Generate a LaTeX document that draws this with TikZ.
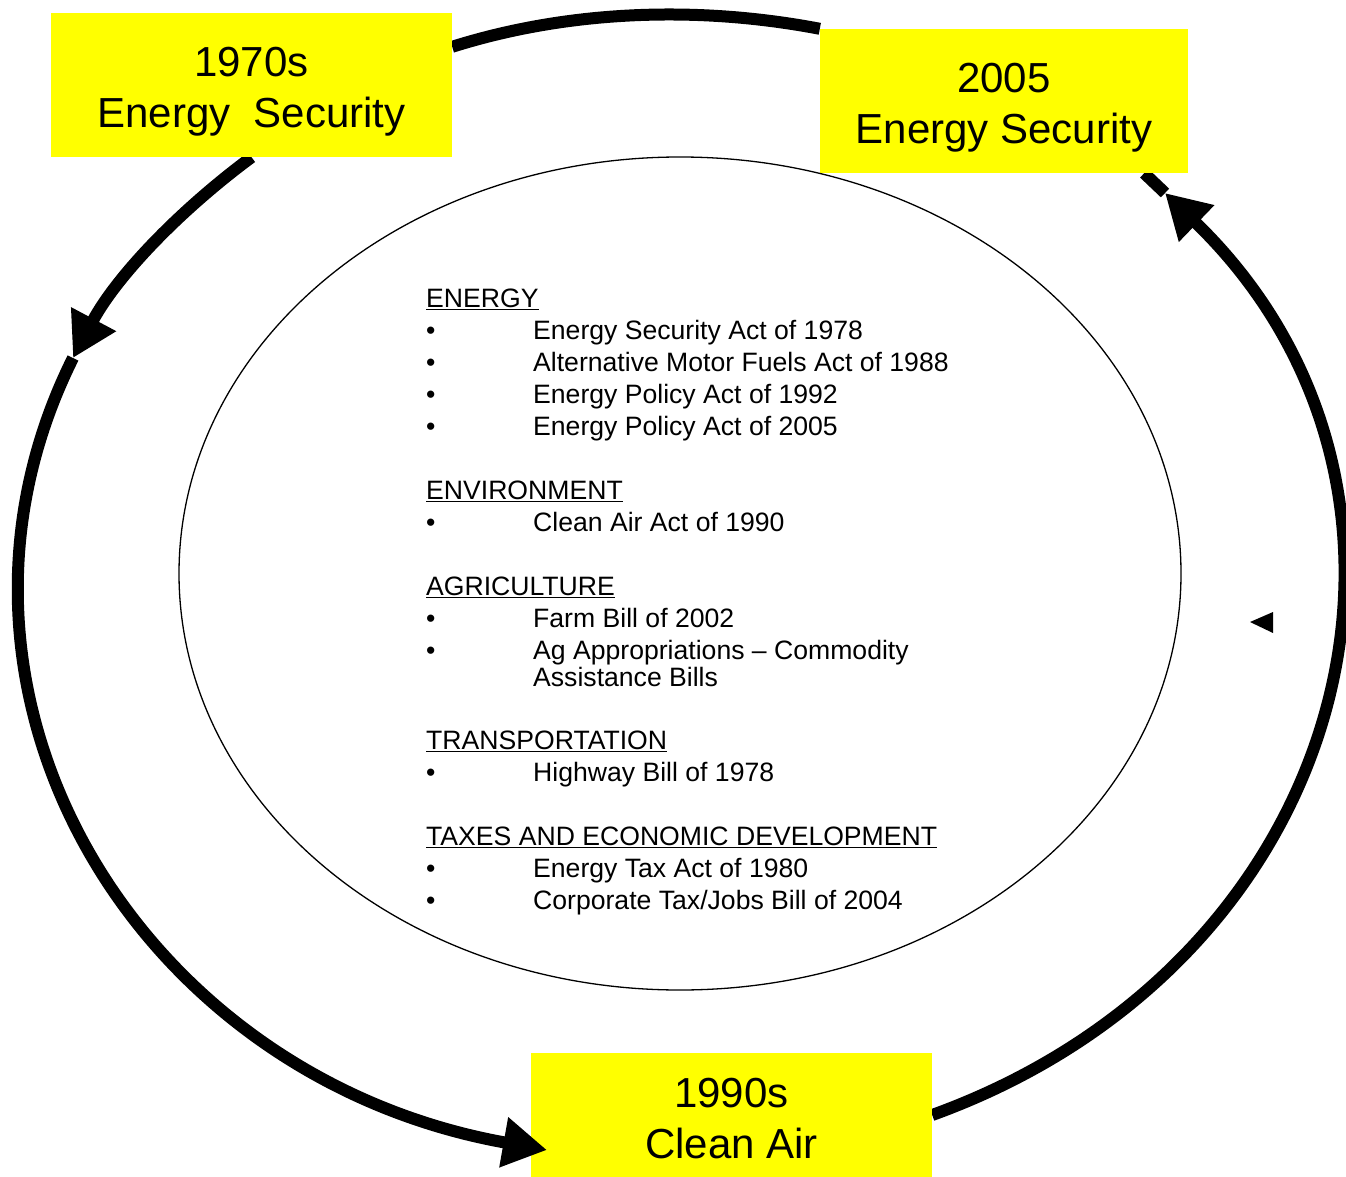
\documentclass[tikz,border=0pt]{standalone}
\usepackage{fontspec}
\setmainfont{Liberation Sans}
\usepackage{xcolor}
\usepackage{tikz}
\usetikzlibrary{positioning, arrows.meta, shapes.geometric, backgrounds}
\definecolor{eraYellow}{HTML}{FFFF00}
\newcommand{\actitem}{\makebox[107pt][l]{\textbullet}}
\newcommand{\eraline}[2][7pt]{\raisebox{-#1}[\height][\depth]{#2}}

\begin{document}
\begin{tikzpicture}[x=1pt, y=1pt,
    era/.style={fill=eraYellow, inner sep=0pt, align=center,
                font=\fontsize{42}{51}\selectfont},
    ring/.style={line width=12pt},
    ringarrow/.style={ring, -{Triangle[length=44pt, width=48pt]}}]
    \useasboundingbox (0,0) rectangle (1346,-1177);

    \node[era, minimum width=401pt, minimum height=144pt] (y70) at (251.5,-85) {\eraline{1970s}\\\eraline{Energy~ Security}};
    \node[era, minimum width=368pt, minimum height=144pt] (y05) at (1004,-101) {\eraline{2005}\\\eraline{Energy Security}};
    \node[era, minimum width=401pt, minimum height=124pt] (y90) at (731.5,-1115) {\eraline[4pt]{1990s}\\\eraline[4pt]{Clean Air}};

    \node[draw, ellipse, line width=1.3pt, minimum width=1002pt, minimum height=833pt] (inner) at (680,-573.5) {};
    \node[anchor=north west, inner sep=0pt, align=left,
          font=\fontsize{26.6}{32}\selectfont] (acts) at (426,-289) {%
      \underline{ENERGY}\\
      \actitem Energy Security Act of 1978\\
      \actitem Alternative Motor Fuels Act of 1988\\
      \actitem Energy Policy Act of 1992\\
      \actitem Energy Policy Act of 2005\\[32pt]
      \underline{ENVIRONMENT}\\
      \actitem Clean Air Act of 1990\\[32pt]
      \underline{AGRICULTURE}\\
      \actitem Farm Bill of 2002\\
      \actitem Ag Appropriations -- Commodity\\[-5pt]
      \hspace*{107pt}Assistance Bills\\[31pt]
      \underline{TRANSPORTATION}\\
      \actitem Highway Bill of 1978\\[32pt]
      \underline{TAXES AND ECONOMIC DEVELOPMENT}\\
      \actitem Energy Tax Act of 1980\\
      \actitem Corporate Tax/Jobs Bill of 2004};

    \coordinate (tipL) at (73,-358);
    \coordinate (tipB) at (547,-1150);
    \coordinate (tipR) at (1165,-193);

    % outer ring, hidden under the boxes
    \begin{scope}[on background layer]
      \draw[ring] (y05.north west) to[out=169.2, in=17.5, out distance=123.8pt, in distance=122.7pt] ([yshift=-34pt]y70.north east);
      \draw[ringarrow] (y70.south) to[out=216.6, in=62, out distance=95pt, in distance=89.6pt] (tipL);
      \draw[ringarrow] (y90.east) to[out=19.9, in=-44, out distance=450pt, in distance=425pt] (tipR);
      \draw[ring] (tipR) -- ([xshift=-44pt]y05.south east);
    \end{scope}
    \draw[ringarrow] (tipL) to[out=243.5, in=169.9, out distance=374pt, in distance=417pt] (tipB);

    \fill (1250,-622) -- (1273,-612) -- (1273,-633) -- cycle;
\end{tikzpicture}
\end{document}
